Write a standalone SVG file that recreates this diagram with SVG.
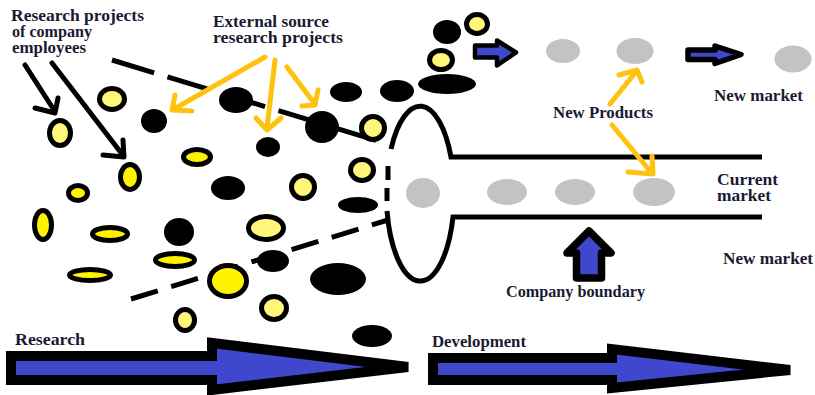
<svg xmlns="http://www.w3.org/2000/svg" width="815" height="395" viewBox="0 0 815 395">
<defs>
<style>
.t{font-family:"Liberation Serif","Times New Roman",serif;font-weight:bold;font-size:16px;fill:#1a1a33}
.y{stroke:#000;stroke-width:5}
.yp{fill:#fff67a}
.yb{fill:#fff200}
.b{fill:#000}
.g{fill:#c3c3c3}
.dash{fill:none;stroke:#000;stroke-width:5}
.fun{fill:none;stroke:#000;stroke-width:5}
.ya{fill:none;stroke:#ffc20e;stroke-width:5;stroke-linecap:round;stroke-linejoin:round}
.ka{fill:none;stroke:#000;stroke-width:5;stroke-linecap:round;stroke-linejoin:round}
.big{fill:#3f48cc;stroke:#000;stroke-width:10;stroke-linejoin:miter}
.sm{fill:#3f48cc;stroke:#000;stroke-linejoin:round}
</style>
</defs>
<rect width="815" height="395" fill="#fff"/>

<g id="funnel-dashes">
<path class="dash" d="M112,60 L388,144" stroke-dasharray="44 14"/>
<path class="dash" d="M131,299 L388,220" stroke-dasharray="28 14"/>
</g>

<g id="funnel">
<path class="fun" d="M762,157 L451,157 A34,88 0 0 0 391,149"/>
<path class="fun" d="M387,211 A34,88 0 0 0 453,217 L762,217"/>
<path class="fun" d="M388,166 L388,180 M387,188 L387,201"/>
</g>

<g id="projects">
<ellipse class="b" cx="154" cy="121" rx="13" ry="12"/>
<ellipse class="b" cx="236" cy="100" rx="17" ry="13"/>
<ellipse class="b" cx="346" cy="92" rx="16" ry="10"/>
<ellipse class="b" cx="322" cy="127" rx="17" ry="16"/>
<ellipse class="b" cx="268" cy="147" rx="12" ry="10"/>
<ellipse class="b" cx="228" cy="188" rx="17" ry="12"/>
<ellipse class="b" cx="358" cy="205" rx="20" ry="8"/>
<ellipse class="b" cx="179" cy="232" rx="15" ry="14"/>
<ellipse class="b" cx="273" cy="261" rx="16" ry="11"/>
<ellipse class="b" cx="338" cy="279" rx="28" ry="16"/>
<ellipse class="b" cx="372" cy="336" rx="20" ry="11"/>
<ellipse class="b" cx="447" cy="32" rx="14" ry="12"/>
<ellipse class="b" cx="447" cy="84" rx="29" ry="10"/>
<ellipse class="b" cx="397" cy="91" rx="17" ry="11"/>

<ellipse class="y yp" cx="112" cy="99" rx="12.5" ry="10.5"/>
<ellipse class="y yp" cx="60" cy="133" rx="10.5" ry="12.5"/>
<ellipse class="y yb" cx="130" cy="177" rx="9.5" ry="12.5"/>
<ellipse class="y yb" cx="78" cy="193" rx="9.5" ry="7.5"/>
<ellipse class="y yb" cx="197" cy="157" rx="13.5" ry="7.5"/>
<ellipse class="y yb" cx="43" cy="225" rx="8.5" ry="14.5"/>
<ellipse class="y yb" cx="110" cy="234" rx="17.5" ry="6.5"/>
<ellipse class="y yb" cx="175" cy="260" rx="19.5" ry="6.5"/>
<ellipse class="y yb" cx="90" cy="275" rx="20.5" ry="5.5"/>
<ellipse class="y yb" cx="228" cy="281" rx="18.5" ry="15.5"/>
<ellipse class="y yp" cx="274" cy="308" rx="12.5" ry="11.5"/>
<ellipse class="y yp" cx="185" cy="320" rx="9.5" ry="10.5"/>
<ellipse class="y yp" cx="266" cy="228" rx="17.5" ry="11.5"/>
<ellipse class="y yp" cx="303" cy="187" rx="11.5" ry="11.5"/>
<ellipse class="y yp" cx="362" cy="170" rx="11.5" ry="10.5"/>
<ellipse class="y yp" cx="373" cy="128" rx="11.5" ry="11.5"/>
<ellipse class="y yp" cx="441" cy="60" rx="11.5" ry="9.5"/>
<ellipse class="y yp" cx="477" cy="24" rx="10.5" ry="9.5"/>
</g>

<g id="products">
<ellipse class="g" cx="423" cy="193" rx="17" ry="15"/>
<ellipse class="g" cx="507" cy="192" rx="20" ry="13"/>
<ellipse class="g" cx="575" cy="192" rx="20" ry="13"/>
<ellipse class="g" cx="654" cy="192" rx="21" ry="14"/>
<ellipse class="g" cx="563" cy="51" rx="17" ry="12"/>
<ellipse class="g" cx="635" cy="51" rx="18.5" ry="13"/>
<ellipse class="g" cx="793" cy="59" rx="18.5" ry="13.5"/>
</g>

<g id="connectors">
<path class="ya" d="M265,57 L174,109 M175,95 L172,110 L192,111"/>
<path class="ya" d="M275,60 L267,128 M256,118 L267,130 L281,118"/>
<path class="ya" d="M287,67 L314,103 M318,90 L315,105 L302,106"/>
<path class="ya" d="M610,104 L635,73 M619,75 L637,70 L642,82"/>
<path class="ya" d="M612,125 L650,171 M628,172 L653,174 L652,156"/>
<path class="ka" d="M25,65 L54,110 M35,108 L55,113 L58,98"/>
<path class="ka" d="M52,63 L122,154 M103,155 L124,157 L123,140"/>
<polygon class="sm" stroke-width="4.5" points="475,45.5 497,45.5 497,40.5 516,52.5 497,65.5 497,57.5 475,57.5"/>
<polygon class="sm" stroke-width="5.5" points="688,50 715,50 715,46 741,54.5 715,63.5 715,59.5 688,59.5"/>
<polygon class="sm" stroke-width="7.5" points="576.5,278 576.5,253 567,253 589,231 611,253 601.5,253 601.5,278"/>
<polygon class="big" points="11,356 212,356 212,343 408,367 212,390 212,380 11,380"/>
<polygon class="big" points="433,358 612,358 612,349 790,370 612,388 612,380 433,380"/>
</g>

<g id="labels">
<text class="t" x="11" y="21" textLength="133" lengthAdjust="spacingAndGlyphs">Research projects</text>
<text class="t" x="12" y="37" textLength="80" lengthAdjust="spacingAndGlyphs">of company</text>
<text class="t" x="12" y="53" textLength="74" lengthAdjust="spacingAndGlyphs">employees</text>
<text class="t" x="213" y="27" textLength="116" lengthAdjust="spacingAndGlyphs">External source</text>
<text class="t" x="213" y="43" textLength="130" lengthAdjust="spacingAndGlyphs">research projects</text>
<text class="t" x="553" y="118" textLength="100" lengthAdjust="spacingAndGlyphs">New Products</text>
<text class="t" x="714" y="101" textLength="89" lengthAdjust="spacingAndGlyphs">New market</text>
<text class="t" x="717" y="185" textLength="61" lengthAdjust="spacingAndGlyphs">Current</text>
<text class="t" x="717" y="201" textLength="54" lengthAdjust="spacingAndGlyphs">market</text>
<text class="t" x="723" y="264" textLength="90" lengthAdjust="spacingAndGlyphs">New market</text>
<text class="t" x="506" y="297" textLength="139" lengthAdjust="spacingAndGlyphs">Company boundary</text>
<text class="t" x="432" y="347" textLength="94" lengthAdjust="spacingAndGlyphs">Development</text>
<text class="t" x="15" y="345" textLength="70" lengthAdjust="spacingAndGlyphs">Research</text>
</g>
</svg>
